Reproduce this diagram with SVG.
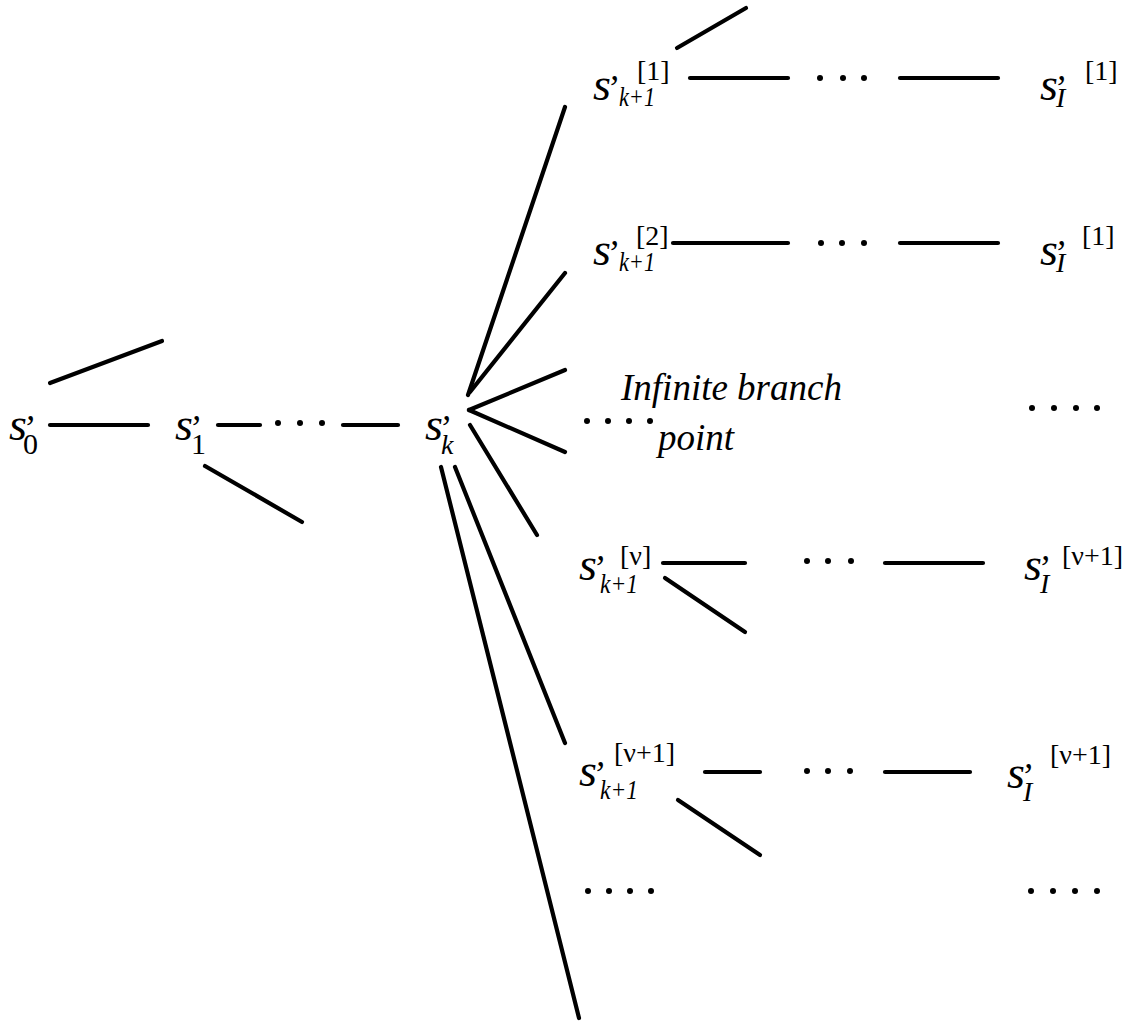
<svg xmlns="http://www.w3.org/2000/svg" width="1141" height="1021" viewBox="0 0 1141 1021">
<style>
text{font-family:"Liberation Serif","Times New Roman",serif;fill:#000}
.s{font-style:italic;font-size:46px}
.p{font-style:italic;font-size:36px}
.sub{font-style:italic;font-size:28px}
.subr{font-style:normal;font-size:30px}
.sup{font-style:normal;font-size:28px}
.lbl{font-style:italic;font-size:37px}
.e line{stroke:#000;stroke-width:4.2;stroke-linecap:round}
.d circle{fill:#000}
</style>
<rect width="1141" height="1021" fill="#fff"/>
<g id="connectors" class="e">
<line x1="50" y1="383" x2="162" y2="341"/>
<line x1="50" y1="425" x2="148" y2="425"/>
<line x1="205" y1="466" x2="302" y2="522"/>
<line x1="218" y1="425" x2="260" y2="425"/>
<line x1="343" y1="425" x2="398" y2="425"/>
<line x1="468" y1="395" x2="565" y2="107"/>
<line x1="470" y1="392" x2="565" y2="273"/>
<line x1="469" y1="410" x2="565" y2="370"/>
<line x1="469" y1="410" x2="565" y2="452"/>
<line x1="470" y1="425" x2="537" y2="535"/>
<line x1="441" y1="467" x2="579" y2="1018"/>
<line x1="455" y1="467" x2="565" y2="743"/>
<line x1="677" y1="48" x2="746" y2="8"/>
<line x1="690" y1="78" x2="788" y2="78"/>
<line x1="900" y1="78" x2="998" y2="78"/>
<line x1="673" y1="243" x2="788" y2="243"/>
<line x1="900" y1="243" x2="998" y2="243"/>
<line x1="663" y1="563" x2="745" y2="563"/>
<line x1="885" y1="563" x2="983" y2="563"/>
<line x1="665" y1="578" x2="745" y2="632"/>
<line x1="705" y1="772" x2="760" y2="772"/>
<line x1="885" y1="772" x2="970" y2="772"/>
<line x1="678" y1="800" x2="760" y2="855"/>
</g>
<g id="ellipses" class="d">
<circle cx="278" cy="423" r="3"/><circle cx="300" cy="423" r="3"/><circle cx="322" cy="423" r="3"/>
<circle cx="820" cy="78" r="3"/><circle cx="843" cy="78" r="3"/><circle cx="864" cy="78" r="3"/>
<circle cx="821" cy="243" r="3"/><circle cx="842" cy="243" r="3"/><circle cx="864" cy="243" r="3"/>
<circle cx="587" cy="421" r="3"/><circle cx="608" cy="421" r="3"/><circle cx="629" cy="421" r="3"/><circle cx="650" cy="421" r="3"/>
<circle cx="1032" cy="408" r="3"/><circle cx="1054" cy="408" r="3"/><circle cx="1076" cy="408" r="3"/><circle cx="1097" cy="408" r="3"/>
<circle cx="807" cy="561" r="3"/><circle cx="828" cy="561" r="3"/><circle cx="851" cy="561" r="3"/>
<circle cx="807" cy="771" r="3"/><circle cx="828" cy="771" r="3"/><circle cx="850" cy="771" r="3"/>
<circle cx="588" cy="891" r="3"/><circle cx="609" cy="891" r="3"/><circle cx="630" cy="891" r="3"/><circle cx="651" cy="891" r="3"/>
<circle cx="1031" cy="891" r="3"/><circle cx="1053" cy="891" r="3"/><circle cx="1075" cy="891" r="3"/><circle cx="1097" cy="891" r="3"/>
</g>
<g id="n-s0"><text><tspan class="s" x="9" y="440">s</tspan><tspan class="p" x="22" y="440">’</tspan><tspan class="subr" x="23" y="454">0</tspan></text></g>
<g id="n-s1"><text><tspan class="s" x="175" y="440">s</tspan><tspan class="p" x="188" y="440">’</tspan><tspan class="subr" x="191" y="454">1</tspan></text></g>
<g id="n-sk"><text><tspan class="s" x="425" y="440">s</tspan><tspan class="p" x="438" y="440">’</tspan><tspan class="sub" x="441" y="454" font-size="30">k</tspan></text></g>
<g id="n-k1-1"><text><tspan class="s" x="593" y="100">s</tspan><tspan class="p" x="606" y="100">’</tspan><tspan class="sub" x="619" y="106" textLength="36" lengthAdjust="spacingAndGlyphs">k+1</tspan><tspan class="sup" x="637" y="80">[1]</tspan></text></g>
<g id="n-l-1a"><text><tspan class="s" x="1040" y="100">s</tspan><tspan class="p" x="1053" y="100">’</tspan><tspan class="sub" x="1056" y="107">I</tspan><tspan class="sup" x="1085" y="80">[1]</tspan></text></g>
<g id="n-k1-2"><text><tspan class="s" x="593" y="265">s</tspan><tspan class="p" x="606" y="265">’</tspan><tspan class="sub" x="619" y="271" textLength="36" lengthAdjust="spacingAndGlyphs">k+1</tspan><tspan class="sup" x="636" y="245">[2]</tspan></text></g>
<g id="n-l-1b"><text><tspan class="s" x="1040" y="265">s</tspan><tspan class="p" x="1053" y="265">’</tspan><tspan class="sub" x="1056" y="272">I</tspan><tspan class="sup" x="1082" y="245">[1]</tspan></text></g>
<g id="n-branch"><text class="lbl" x="621" y="400">Infinite branch</text><text class="lbl" x="658" y="450">point</text></g>
<g id="n-k1-v"><text><tspan class="s" x="579" y="580">s</tspan><tspan class="p" x="592" y="580">’</tspan><tspan class="sub" x="600" y="593" textLength="38" lengthAdjust="spacingAndGlyphs">k+1</tspan><tspan class="sup" x="620" y="565">[ν]</tspan></text></g>
<g id="n-l-v1a"><text><tspan class="s" x="1024" y="580">s</tspan><tspan class="p" x="1037" y="580">’</tspan><tspan class="sub" x="1040" y="593">I</tspan><tspan class="sup" x="1062" y="565">[ν+1]</tspan></text></g>
<g id="n-k1-v1"><text><tspan class="s" x="579" y="786">s</tspan><tspan class="p" x="592" y="786">’</tspan><tspan class="sub" x="600" y="799" textLength="38" lengthAdjust="spacingAndGlyphs">k+1</tspan><tspan class="sup" x="614" y="762">[ν+1]</tspan></text></g>
<g id="n-l-v1b"><text><tspan class="s" x="1007" y="788">s</tspan><tspan class="p" x="1020" y="788">’</tspan><tspan class="sub" x="1023" y="801">I</tspan><tspan class="sup" x="1050" y="764">[ν+1]</tspan></text></g>
</svg>
